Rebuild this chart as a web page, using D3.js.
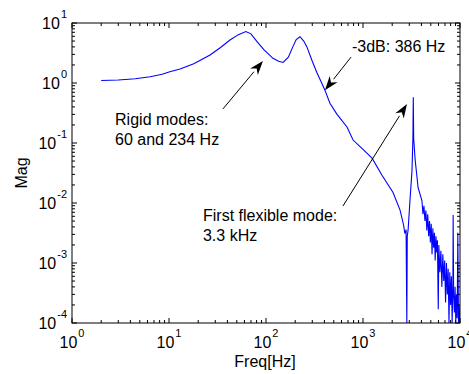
<!DOCTYPE html>
<html>
<head>
<meta charset="utf-8">
<script src="https://cdn.jsdelivr.net/npm/d3@7"></script>
<style>
  body { margin: 0; background: #fff; }
  text { font-family: "Liberation Sans", Arial, sans-serif; fill: #000; }
</style>
</head>
<body>
<div id="chart"></div>
<script>
'use strict';

// ── Data: frequency response ───────────────────────────────
const freqHz = [
  2, 3, 4.5, 6.4, 8.5, 10.2, 13, 18, 26.5, 34, 42.5, 52, 62, 70, 80.8, 95, 118, 135, 150,
  170, 189, 205, 224, 245, 264, 300, 336, 370, 405, 456, 540, 684, 790, 1000, 1240,
  1570, 2040, 2410, 2620, 2700, 2780, 2830, 2860, 2920, 3050, 3200, 3270, 3300, 3330,
  3450, 3700, 4050, 4150, 4250, 4350, 4450, 4550, 4650, 4750, 4850, 4950, 5050, 5150,
  5250, 5350, 5450, 5550, 5650, 5750, 5850, 5970, 6050, 6200, 6350, 6500, 6650, 6800,
  6950, 7100, 7250, 7400, 7550, 7700, 7850, 8000, 8150, 8300, 8450, 8500, 8600, 8750,
  8900, 9050, 9200, 9350, 9500, 9650, 9800, 9950
];
const magnitude = [
  1.1, 1.12, 1.18, 1.27, 1.4, 1.54, 1.71, 2.1, 2.93, 3.9, 5.2, 6.4, 7.2, 6.6, 4.9, 3.6, 2.58, 2.3, 2.2,
  2.7, 4.0, 5.3, 5.9, 5.0, 4.0, 2.3, 1.47, 1.05, 0.76, 0.46, 0.3, 0.185, 0.112, 0.078, 0.056,
  0.029, 0.015, 0.0076, 0.0043, 0.0031, 0.0036, 0.0001, 0.0028, 0.0036, 0.011, 0.035, 0.12, 0.58, 0.12,
  0.052, 0.018, 0.011, 0.0065, 0.009, 0.005, 0.0075, 0.0035, 0.0065, 0.0028, 0.005, 0.0022, 0.0045, 0.0014,
  0.0038, 0.0018, 0.0032, 0.0011, 0.0028, 0.0015, 0.0024, 0.00017, 0.002, 0.0007, 0.0016, 0.0004, 0.0014, 0.0005,
  0.0011, 0.00022, 0.001, 0.0003, 0.0008, 0.0001, 0.0007, 0.0002, 0.0006, 0.0001, 0.0005, 0.0063, 0.0003, 0.00015,
  0.0004, 0.0001, 0.0003, 0.00012, 0.0032, 0.0001, 0.0002, 0.0001
];

const xTickExps = [0, 1, 2, 3, 4];
const yTickExps = [-4, -3, -2, -1, 0, 1];

// Annotations: text lines anchored at (Hz, Mag); arrows tail → tip in (Hz, Mag)
const notes = [
  { lines: ['Rigid modes:', '60 and 234 Hz'], at: [2.78, 0.2] },
  { lines: ['-3dB: 386 Hz'], at: [770, 3.3] },
  { lines: ['First flexible mode:', '3.3 kHz'], at: [22.4, 0.0051] }
];
const arrows = [
  { from: [36, 0.37], to: [93, 2.33] },
  { from: [753, 2.7], to: [405, 0.76] },
  { from: [621, 0.0089], to: [2840, 0.447] }
];

// ── Layout ─────────────────────────────────────────────────
const W = 469, H = 374;
const m = { left: 72, right: 9, top: 23, bottom: 51 };
const iw = W - m.left - m.right;
const ih = H - m.top - m.bottom;

const svg = d3.select('#chart').append('svg')
  .attr('width', W).attr('height', H);

const x = d3.scaleLog().domain([1, 1e4]).range([m.left, m.left + iw]);
const y = d3.scaleLog().domain([1e-4, 10]).range([m.top + ih, m.top]).clamp(true);

// ── Curve ──────────────────────────────────────────────────
const pts = freqHz.map((f, i) => [f, magnitude[i]]);
const line = d3.line().x(d => x(d[0])).y(d => y(d[1]));

svg.append('defs').append('clipPath').attr('id', 'clip')
  .append('rect').attr('x', m.left).attr('y', m.top).attr('width', iw).attr('height', ih);

svg.append('path')
  .datum(pts)
  .attr('clip-path', 'url(#clip)')
  .attr('fill', 'none')
  .attr('stroke', '#0000ff')
  .attr('stroke-width', 1.1)
  .attr('d', line);

// ── Axes box and ticks (MATLAB style, inward) ──────────────
const ax = svg.append('g').attr('stroke', '#000').attr('stroke-width', 1);
ax.append('rect')
  .attr('x', m.left).attr('y', m.top).attr('width', iw).attr('height', ih)
  .attr('fill', 'none');

const major = 5, minor = 3;
function logTicks(lo, hi) {
  const out = [];
  for (let e = lo; e < hi; e++) {
    for (let k = 1; k < 10; k++) out.push({ v: k * Math.pow(10, e), major: k === 1 });
  }
  out.push({ v: Math.pow(10, hi), major: true });
  return out;
}

logTicks(0, 4).forEach(t => {
  const px = x(t.v), len = t.major ? major : minor;
  ax.append('line').attr('x1', px).attr('x2', px)
    .attr('y1', m.top + ih).attr('y2', m.top + ih - len);
  ax.append('line').attr('x1', px).attr('x2', px)
    .attr('y1', m.top).attr('y2', m.top + len);
});
logTicks(-4, 1).forEach(t => {
  const py = y(t.v), len = t.major ? major : minor;
  ax.append('line').attr('y1', py).attr('y2', py)
    .attr('x1', m.left).attr('x2', m.left + len);
  ax.append('line').attr('y1', py).attr('y2', py)
    .attr('x1', m.left + iw).attr('x2', m.left + iw - len);
});

// ── Tick labels ────────────────────────────────────────────
xTickExps.forEach(e => {
  const t = svg.append('text')
    .attr('x', x(Math.pow(10, e)))
    .attr('y', m.top + ih + 25)
    .attr('text-anchor', 'middle')
    .attr('font-size', 16);
  t.append('tspan').text('10');
  t.append('tspan').attr('font-size', 11).attr('dy', -11).attr('dx', 1).text(e);
});
yTickExps.forEach(e => {
  const t = svg.append('text')
    .attr('x', m.left - 5)
    .attr('y', y(Math.pow(10, e)) + 6)
    .attr('text-anchor', 'end')
    .attr('font-size', 16);
  t.append('tspan').text('10');
  t.append('tspan').attr('font-size', 11).attr('dy', -11).attr('dx', 1).text(e);
});

// ── Axis titles ────────────────────────────────────────────
svg.append('text')
  .attr('x', m.left + iw * 0.5 - 1)
  .attr('y', 367)
  .attr('text-anchor', 'middle')
  .attr('font-size', 16)
  .text('Freq[Hz]');

svg.append('text')
  .attr('transform', `translate(27,${m.top + ih / 2}) rotate(-90)`)
  .attr('text-anchor', 'middle')
  .attr('font-size', 16)
  .text('Mag');

// ── Annotations ────────────────────────────────────────────
notes.forEach(n => {
  const t = svg.append('text')
    .attr('x', x(n.at[0])).attr('y', y(n.at[1]))
    .attr('font-size', 16);
  n.lines.forEach((s, i) => {
    t.append('tspan').attr('x', x(n.at[0])).attr('dy', i === 0 ? 0 : 20).text(s);
  });
});

arrows.forEach(a => {
  const x1 = x(a.from[0]), y1 = y(a.from[1]);
  const x2 = x(a.to[0]), y2 = y(a.to[1]);
  const ang = Math.atan2(y2 - y1, x2 - x1);
  const hl = 14, hw = 5;
  const bx = x2 - hl * Math.cos(ang), by = y2 - hl * Math.sin(ang);
  svg.append('line')
    .attr('x1', x1).attr('y1', y1).attr('x2', bx).attr('y2', by)
    .attr('stroke', '#000').attr('stroke-width', 1);
  const px = -Math.sin(ang) * hw, py = Math.cos(ang) * hw;
  const ix = x2 - hl * 0.7 * Math.cos(ang), iy = y2 - hl * 0.7 * Math.sin(ang);
  svg.append('path')
    .attr('d', `M${x2},${y2}L${bx + px},${by + py}L${ix},${iy}L${bx - px},${by - py}Z`)
    .attr('fill', '#000');
});
</script>
</body>
</html>
